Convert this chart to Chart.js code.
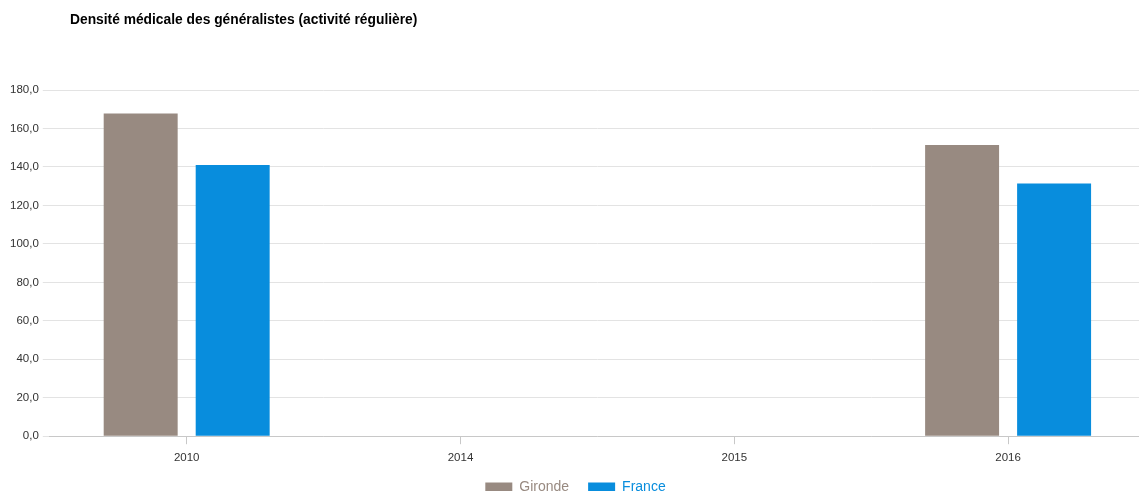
<!DOCTYPE html>
<html>
<head>
<meta charset="utf-8">
<script src="https://cdn.jsdelivr.net/npm/chart.js@4"></script>
<style>
  html, body { margin: 0; padding: 0; background: #fff; overflow: hidden; }
  #wrap { position: relative; width: 1139px; height: 491px; overflow: hidden; }
  #title {
    position: absolute; left: 70px; top: 12px;
    font: bold 13.8px "Liberation Sans", Arial, sans-serif; color: #000;
  }
  canvas { position: absolute; left: 0; top: 0; }
</style>
</head>
<body>
<div id="wrap">
  <canvas id="chart" width="1145" height="515"></canvas>
  <div id="title">Densité médicale des généralistes (activité régulière)</div>
</div>
<script>
// Données
const categories = ['2010', '2014', '2015', '2016'];
const gironde = [167.8, null, null, 151.4];
const france = [141.0, null, null, 131.4];
const seriesNames = ['Gironde', 'France'];
const seriesColors = ['#988a81', '#088ddd'];
const yTicks = { min: 0, max: 180, step: 20 };

const font = { family: '"Liberation Sans", Arial, sans-serif', size: 11.5 };

// Légende : on la remonte un peu (grand espacement horizontal)
const legendShift = {
  id: 'legendShift',
  afterLayout(chart) {
    chart.legend.top -= 11;
    chart.legend.bottom -= 11;
  }
};

new Chart(document.getElementById('chart'), {
  type: 'bar',
  data: {
    labels: categories,
    datasets: [
      { label: seriesNames[0], data: gironde, backgroundColor: seriesColors[0] },
      { label: seriesNames[1], data: france, backgroundColor: seriesColors[1] }
    ]
  },
  plugins: [legendShift],
  options: {
    responsive: false,
    animation: false,
    categoryPercentage: 0.672,
    barPercentage: 0.804,
    layout: { padding: { top: 90, left: 6, right: 0, bottom: 0 } },
    plugins: {
      title: { display: false },
      tooltip: { enabled: false },
      legend: {
        position: 'bottom',
        labels: {
          font: { family: font.family, size: 14 },
          boxWidth: 27,
          boxHeight: 9,
          padding: 19,
          generateLabels: chart => chart.data.datasets.map((ds, i) => ({
            text: ds.label,
            fillStyle: ds.backgroundColor,
            strokeStyle: ds.backgroundColor,
            lineWidth: 0,
            fontColor: ds.backgroundColor,
            datasetIndex: i
          }))
        }
      }
    },
    scales: {
      x: {
        grid: { offset: false, drawOnChartArea: false, drawTicks: true, tickLength: 8, color: '#c8c8c8' },
        border: { color: '#c8c8c8' },
        ticks: { font: font, color: '#333', padding: 7 }
      },
      y: {
        min: yTicks.min,
        max: yTicks.max,
        grid: { color: '#e3e3e3', tickLength: 7 },
        border: { display: false },
        ticks: {
          stepSize: yTicks.step,
          font: font,
          color: '#333',
          padding: 4,
          callback: v => v.toFixed(1).replace('.', ',')
        }
      }
    }
  }
});
</script>
</body>
</html>
